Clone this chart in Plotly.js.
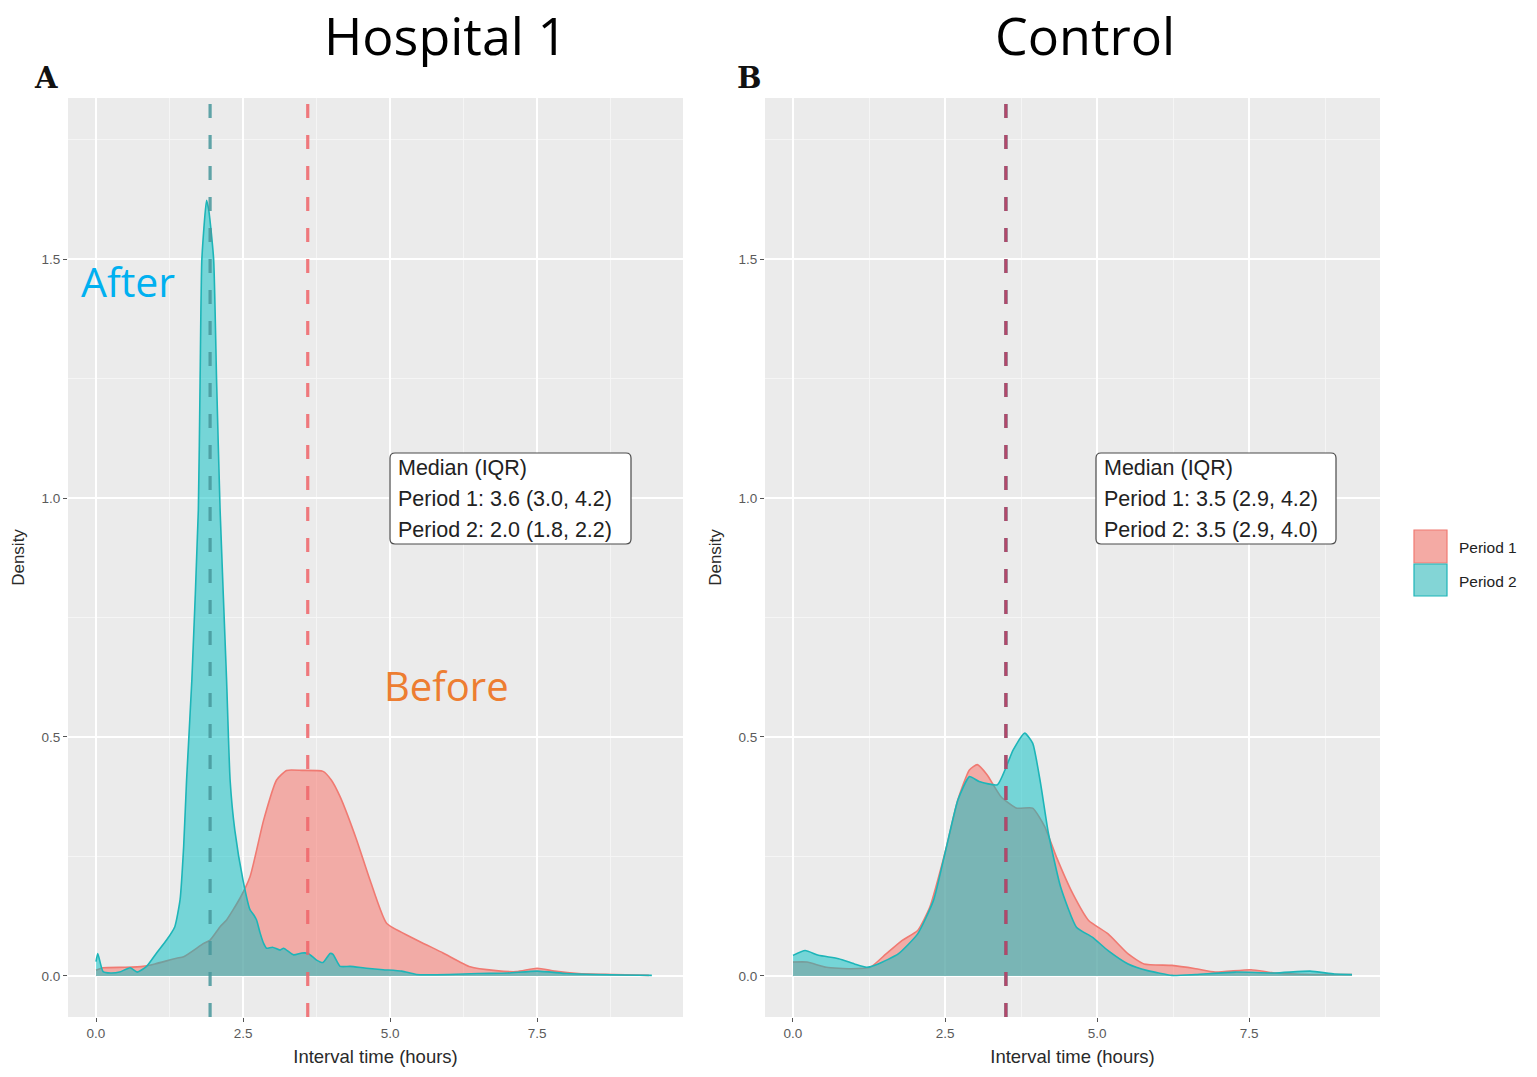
<!DOCTYPE html>
<html>
<head>
<meta charset="utf-8">
<script src="https://cdn.plot.ly/plotly-3.0.1.min.js"></script>
<style>
html,body{margin:0;padding:0;background:#fff;}
#chart{width:1537px;height:1077px;}
</style>
</head>
<body>
<div id="chart"></div>
<script>
// ---- Data ----
const seriesNames = ["Period 1", "Period 2"];
const panelTitles = ["Hospital 1", "Control"];
const panelLetters = ["A", "B"];

// Hospital 1, Period 1 (before)
const h1P1x = [0.0, 0.12, 0.5, 0.8, 1.0, 1.37, 1.49, 1.83, 1.94, 2.11, 2.22, 2.45, 2.62, 2.85, 3.07, 3.24, 3.5, 3.86, 4.0, 4.15, 4.43, 4.66, 4.94, 5.34, 5.9, 6.36, 6.8, 7.15, 7.5, 7.8, 8.2, 8.8, 9.4];
const h1P1y = [0.012, 0.017, 0.018, 0.02, 0.025, 0.037, 0.04, 0.068, 0.075, 0.103, 0.117, 0.163, 0.208, 0.326, 0.41, 0.43, 0.43, 0.428, 0.41, 0.375, 0.285, 0.2, 0.11, 0.082, 0.048, 0.019, 0.011, 0.009, 0.016, 0.01, 0.005, 0.003, 0.001];

// Hospital 1, Period 2 (after)
const h1P2x = [0.0, 0.03, 0.12, 0.25, 0.4, 0.58, 0.7, 0.86, 1.03, 1.2, 1.34, 1.43, 1.49, 1.54, 1.63, 1.74, 1.77, 1.8, 1.88, 1.92, 2.0, 2.05, 2.11, 2.22, 2.28, 2.36, 2.5, 2.62, 2.68, 2.73, 2.79, 2.85, 2.9, 3.0, 3.13, 3.19, 3.36, 3.5, 3.61, 3.75, 3.86, 3.98, 4.03, 4.15, 4.32, 4.6, 4.88, 5.2, 5.45, 6.0, 6.5, 7.0, 7.5, 8.0, 8.5, 9.0, 9.45];
const h1P2y = [0.03, 0.047, 0.009, 0.006, 0.008, 0.017, 0.008, 0.02, 0.048, 0.075, 0.103, 0.16, 0.27, 0.41, 0.62, 0.975, 1.247, 1.5, 1.623, 1.6, 1.5, 1.247, 0.975, 0.62, 0.41, 0.305, 0.2, 0.138, 0.128, 0.117, 0.09, 0.068, 0.058, 0.06, 0.054, 0.058, 0.044, 0.048, 0.047, 0.033, 0.028, 0.047, 0.045, 0.02, 0.02, 0.016, 0.013, 0.01, 0.003, 0.003, 0.005, 0.006, 0.01, 0.005, 0.003, 0.002, 0.001];

// Control, Period 1
const cP1x = [0.0, 0.23, 0.55, 0.95, 1.27, 1.53, 1.79, 2.05, 2.25, 2.51, 2.71, 2.9, 3.03, 3.19, 3.42, 3.68, 3.94, 4.14, 4.33, 4.6, 4.86, 5.18, 5.51, 5.77, 6.23, 6.62, 6.94, 7.53, 7.92, 8.57, 9.19];
const cP1y = [0.029, 0.029, 0.018, 0.015, 0.018, 0.046, 0.074, 0.095, 0.144, 0.263, 0.368, 0.431, 0.442, 0.421, 0.375, 0.351, 0.351, 0.312, 0.249, 0.172, 0.116, 0.088, 0.046, 0.025, 0.022, 0.015, 0.008, 0.013, 0.006, 0.003, 0.003];

// Control, Period 2
const cP2x = [0.0, 0.2, 0.42, 0.75, 1.01, 1.21, 1.4, 1.73, 2.05, 2.31, 2.51, 2.71, 2.9, 3.06, 3.36, 3.62, 3.81, 3.94, 4.07, 4.2, 4.4, 4.66, 4.92, 5.18, 5.51, 5.83, 6.23, 6.62, 7.27, 7.92, 8.5, 8.9, 9.19];
const cP2y = [0.043, 0.053, 0.043, 0.036, 0.025, 0.018, 0.025, 0.046, 0.088, 0.158, 0.263, 0.368, 0.417, 0.407, 0.40, 0.473, 0.508, 0.487, 0.403, 0.298, 0.186, 0.102, 0.081, 0.053, 0.025, 0.011, 0.001, 0.003, 0.008, 0.006, 0.01, 0.004, 0.003];

// Medians (dashed lines)
const h1Medians = [3.6, 1.94];
const cMedians = [3.5, 3.5];

// Annotation box texts
const h1Box = ["Median (IQR)", "Period 1: 3.6 (3.0, 4.2)", "Period 2: 2.0 (1.8, 2.2)"];
const cBox = ["Median (IQR)", "Period 1: 3.5 (2.9, 4.2)", "Period 2: 3.5 (2.9, 4.0)"];

const xTickVals = [0, 2.5, 5, 7.5];
const yTickVals = [0, 0.5, 1.0, 1.5];

// ---- Styling ----
const redLine = "#F07A72", redFill = "rgba(248,118,109,0.55)";
const tealLine = "#1DB5B8", tealFill = "rgba(0,191,196,0.5)";
const sansFont = "Liberation Sans, Arial, sans-serif";

function densTrace(x, y, name, xa, ya, line, fill) {
  return {
    x: x, y: y, name: name, xaxis: xa, yaxis: ya,
    type: "scatter", mode: "lines", fill: "tozeroy",
    line: {color: line, width: 1.6, shape: "spline", smoothing: 0.5},
    fillcolor: fill, showlegend: false, hoverinfo: "x+y"
  };
}

const data = [
  densTrace(h1P1x, h1P1y, seriesNames[0], "x", "y", redLine, redFill),
  densTrace(h1P2x, h1P2y, seriesNames[1], "x", "y", tealLine, tealFill),
  densTrace(cP1x, cP1y, seriesNames[0], "x2", "y2", redLine, redFill),
  densTrace(cP2x, cP2y, seriesNames[1], "x2", "y2", tealLine, tealFill)
];

function xAxis(domain, range, anchor) {
  return {
    domain: domain, range: range, anchor: anchor,
    tickvals: xTickVals, tickformat: ".1f",
    showgrid: true, gridcolor: "#FFFFFF", gridwidth: 1.8,
    minor: {dtick: 1.25, tick0: 0, showgrid: true, gridcolor: "#F6F6F6", gridwidth: 0.9, ticks: ""},
    ticks: "outside", ticklen: 4, tickwidth: 1, tickcolor: "#555",
    tickfont: {family: sansFont, size: 13.5, color: "#5A5A5A"},
    zeroline: false, showline: false,
    title: {text: "Interval time (hours)", font: {family: sansFont, size: 18.5, color: "#2A2A2A"}, standoff: 9}
  };
}
function yAxis(domain, range, anchor) {
  return {
    domain: domain, range: range, anchor: anchor,
    tickvals: yTickVals, tickformat: ".1f",
    showgrid: true, gridcolor: "#FFFFFF", gridwidth: 1.8,
    minor: {dtick: 0.25, tick0: 0, showgrid: true, gridcolor: "#F6F6F6", gridwidth: 0.9, ticks: ""},
    ticks: "outside", ticklen: 4, tickwidth: 1, tickcolor: "#555",
    tickfont: {family: sansFont, size: 13.5, color: "#5A5A5A"},
    zeroline: false, showline: false,
    title: {text: "Density", font: {family: sansFont, size: 17, color: "#2A2A2A"}, standoff: 12}
  };
}

const W = 1537, H = 1077;
const px = v => v / W, py = v => 1 - v / H;
const yDom = [py(1017), py(98)];

const shapes = [];
function medLine(xval, xa, ya, color) {
  shapes.push({type: "line", xref: xa, yref: ya + " domain", x0: xval, x1: xval, y0: 0, y1: 1,
    line: {color: color, width: 3.2, dash: "14px,17px"}, layer: "above"});
}
medLine(h1Medians[1], "x", "y", "rgba(70,150,155,0.85)");
medLine(h1Medians[0], "x", "y", "rgba(240,100,105,0.85)");
medLine(cMedians[1], "x2", "y2", "#3F9AA0");
medLine(cMedians[0], "x2", "y2", "#B2486A");

// Label boxes
function labelBox(x0, y0, x1, y1) {
  const r = 5;
  const X0 = px(x0), X1 = px(x1), Y0 = py(y0), Y1 = py(y1);
  const rx = r / W, ry = r / H;
  const path = `M ${X0 + rx} ${Y0} L ${X1 - rx} ${Y0} Q ${X1} ${Y0} ${X1} ${Y0 - ry} L ${X1} ${Y1 + ry} Q ${X1} ${Y1} ${X1 - rx} ${Y1} L ${X0 + rx} ${Y1} Q ${X0} ${Y1} ${X0} ${Y1 + ry} L ${X0} ${Y0 - ry} Q ${X0} ${Y0} ${X0 + rx} ${Y0} Z`;
  shapes.push({type: "path", xref: "paper", yref: "paper", path: path,
    fillcolor: "#FFFFFF", line: {color: "#4A4A4A", width: 1.2}, layer: "above"});
}
labelBox(390, 453, 631, 544);
labelBox(1096, 453, 1336, 544);

// Custom legend keys
shapes.push({type: "rect", xref: "paper", yref: "paper", x0: px(1414), x1: px(1447), y0: py(530), y1: py(563),
  fillcolor: "#F4AAA4", line: {color: "#F07A72", width: 1.2}});
shapes.push({type: "rect", xref: "paper", yref: "paper", x0: px(1414), x1: px(1447), y0: py(564), y1: py(596),
  fillcolor: "#83D5D6", line: {color: "#1DB5B8", width: 1.2}});

const annotations = [];
function txt(x, y, text, font, xanchor) {
  annotations.push({xref: "paper", yref: "paper", x: px(x), y: py(y), text: text,
    showarrow: false, font: font, xanchor: xanchor || "center", yanchor: "middle"});
}
const boxFont = {family: sansFont, size: 21.5, color: "#222"};
h1Box.forEach((t, i) => txt(396, 468 + i * 31, t, boxFont, "left"));
cBox.forEach((t, i) => txt(1102, 468 + i * 31, t, boxFont, "left"));

txt(445, 34, panelTitles[0], {family: "Open Sans, sans-serif", size: 52, color: "#000"});
txt(1085, 34, panelTitles[1], {family: "Open Sans, sans-serif", size: 52, color: "#000"});
txt(46, 78, "<b>" + panelLetters[0] + "</b>", {family: "DejaVu Serif, serif", size: 29, color: "#111"});
txt(749, 78, "<b>" + panelLetters[1] + "</b>", {family: "DejaVu Serif, serif", size: 29, color: "#111"});
txt(128, 281, "After", {family: "Open Sans, sans-serif", size: 41, color: "#00B0F0"});
txt(446, 685, "Before", {family: "Open Sans, sans-serif", size: 40, color: "#ED7D31"});
txt(1457, 547, seriesNames[0], {family: sansFont, size: 15.5, color: "#222"}, "left");
txt(1457, 581, seriesNames[1], {family: sansFont, size: 15.5, color: "#222"}, "left");

const layout = {
  width: W, height: H,
  margin: {l: 0, r: 0, t: 0, b: 0},
  paper_bgcolor: "#FFFFFF", plot_bgcolor: "#EBEBEB",
  showlegend: false,
  xaxis: xAxis([px(68), px(683)], [-0.476, 9.98], "y"),
  yaxis: yAxis(yDom, [-0.086, 1.837], "x"),
  xaxis2: xAxis([px(765), px(1380)], [-0.46, 9.65], "y2"),
  yaxis2: yAxis(yDom, [-0.086, 1.837], "x2"),
  shapes: shapes,
  annotations: annotations
};

Plotly.newPlot("chart", data, layout, {displayModeBar: false, staticPlot: true});
</script>
</body>
</html>
